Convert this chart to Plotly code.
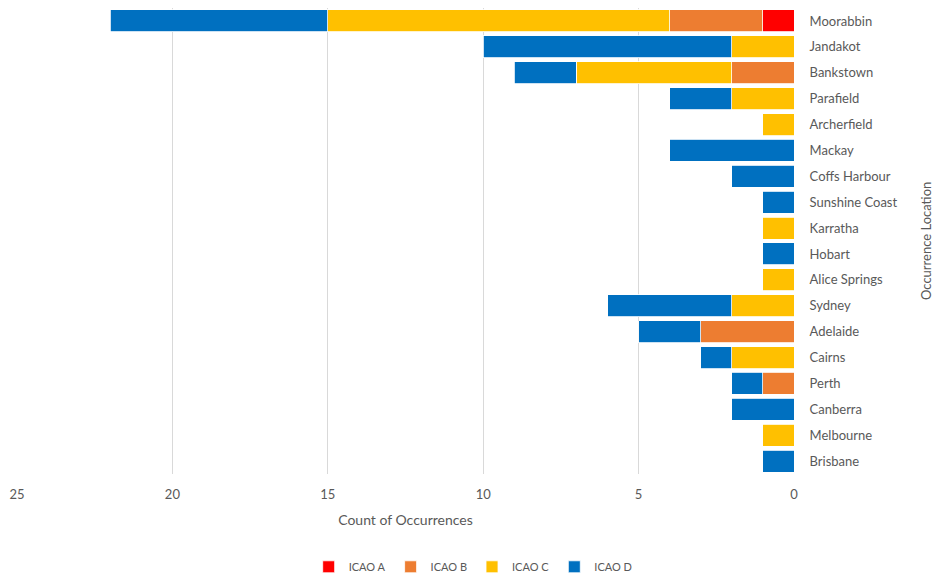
import plotly.graph_objects as go

# Occurrence locations, top to bottom
locations = ["Moorabbin", "Jandakot", "Bankstown", "Parafield", "Archerfield", "Mackay",
             "Coffs Harbour", "Sunshine Coast", "Karratha", "Hobart", "Alice Springs",
             "Sydney", "Adelaide", "Cairns", "Perth", "Canberra", "Melbourne", "Brisbane"]

# Counts per airspace class
icao_a = [1, 0, 0, 0, 0, 0, 0, 0, 0, 0, 0, 0, 0, 0, 0, 0, 0, 0]
icao_b = [3, 0, 2, 0, 0, 0, 0, 0, 0, 0, 0, 0, 3, 0, 1, 0, 0, 0]
icao_c = [11, 2, 5, 2, 1, 0, 0, 0, 1, 0, 1, 2, 0, 2, 0, 0, 1, 0]
icao_d = [7, 8, 2, 2, 0, 4, 2, 1, 0, 1, 0, 4, 2, 1, 1, 2, 0, 1]

series = [("ICAO A", icao_a, "#FF0000"),
          ("ICAO B", icao_b, "#ED7D31"),
          ("ICAO C", icao_c, "#FFC000"),
          ("ICAO D", icao_d, "#0070C0")]

tick_vals = [0, 5, 10, 15, 20, 25]

fig = go.Figure()
for name, vals, color in series:
    fig.add_trace(go.Bar(
        y=locations, x=vals, name=name, orientation="h",
        marker=dict(color=color, line=dict(color="white", width=0.8)),
    ))

font_color = "#595959"
fig.update_layout(
    barmode="stack",
    bargap=0.15,
    width=937, height=576,
    margin=dict(l=17, r=143, t=8, b=102),
    plot_bgcolor="white", paper_bgcolor="white",
    font=dict(family="Lato, 'Open Sans', sans-serif", size=13, color=font_color),
    xaxis=dict(
        range=[25, 0], tickvals=tick_vals, showgrid=True, gridcolor="#D9D9D9",
        gridwidth=1, zeroline=False, showline=False,
        ticks="outside", ticklen=8, tickcolor="rgba(0,0,0,0)",
        title=dict(text="Count of Occurrences", font=dict(size=14, color=font_color), standoff=14),
    ),
    yaxis=dict(
        side="right", categoryorder="array", categoryarray=locations,
        autorange="reversed", showgrid=False, zeroline=False, showline=False,
        ticks="outside", ticklen=12, tickcolor="rgba(0,0,0,0)",
    ),
    legend=dict(
        orientation="h", xref="container", yref="container",
        x=0.505, xanchor="center", y=0.016, yanchor="middle",
        font=dict(size=11, color=font_color), traceorder="normal",
        itemwidth=30,
    ),
    annotations=[dict(
        text="Occurrence Location", xref="paper", yref="paper",
        x=(926 - 17) / 777, y=0.5, textangle=-90, showarrow=False,
        xanchor="center", yanchor="middle",
        font=dict(size=13, color=font_color),
    )],
)

fig.write_html("out.html")
